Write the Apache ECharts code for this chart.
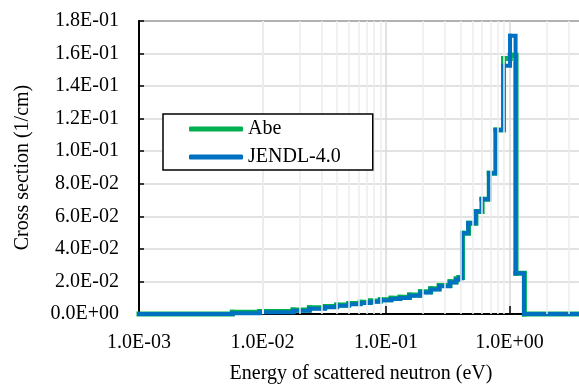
<!DOCTYPE html>
<html style="height: 100%">
<head>
  <meta charset="utf-8">
  <script src="https://cdn.jsdelivr.net/npm/echarts@6/dist/echarts.min.js"></script>
</head>
<body style="height: 100%; margin: 0; background: #fff">
<div id="chart" style="width: 579px; height: 390px"></div>
<script>
  // bin edges (eV) and step values (1/cm)
  // value i holds from edge i to edge i+1
  var abeE = [0.001, 0.0057, 0.0095, 0.0177, 0.024, 0.032, 0.04, 0.05, 0.062, 0.075, 0.09, 0.11, 0.13,
    0.155, 0.19, 0.23, 0.27, 0.33, 0.37, 0.39, 0.416, 0.466, 0.535, 0.6, 0.686, 0.777, 0.895, 1.015, 1.13, 1.32, 10];
  var abeV = [0, 0.001, 0.0015, 0.0025, 0.0038, 0.0046, 0.0055, 0.0064, 0.0072, 0.008, 0.0088, 0.0096, 0.0103,
    0.0117, 0.0137, 0.0155, 0.0175, 0.0198, 0.0215, 0.0225, 0.0496, 0.0557, 0.0629, 0.0705, 0.0864, 0.113, 0.157, 0.159, 0.025, 0];

  var jendlE = [0.001, 0.0057, 0.0095, 0.0177, 0.024, 0.032, 0.04, 0.05, 0.062, 0.075, 0.09, 0.11, 0.13,
    0.155, 0.19, 0.23, 0.27, 0.33, 0.37, 0.39, 0.414, 0.463, 0.532, 0.596, 0.682, 0.773, 0.891, 1.01, 1.12, 1.31, 10];
  var jendlV = [0, 0.0005, 0.001, 0.002, 0.0033, 0.0042, 0.005, 0.006, 0.0068, 0.0076, 0.0084, 0.0092, 0.0098,
    0.0112, 0.0132, 0.015, 0.017, 0.0193, 0.021, 0.022, 0.0496, 0.0557, 0.0629, 0.0705, 0.0864, 0.113, 0.1525, 0.171, 0.025, 0];

  var minorX = [0.002, 0.003, 0.004, 0.005, 0.006, 0.007, 0.008, 0.009,
    0.02, 0.03, 0.04, 0.05, 0.06, 0.07, 0.08, 0.09,
    0.2, 0.3, 0.4, 0.5, 0.6, 0.7, 0.8, 0.9,
    2, 3, 4, 5, 6, 7, 8, 9];

  function sci(v) {
    if (v === 0) return '0.0E+00';
    var p = v.toExponential(1).toUpperCase().split('E');
    var e = parseInt(p[1], 10);
    return p[0] + 'E' + (e < 0 ? '-' : '+') + (Math.abs(e) < 10 ? '0' : '') + Math.abs(e);
  }

  // one item per bin: [from, to, value, next value]
  function bins(edges, vals) {
    var out = [];
    for (var i = 0; i < vals.length; i++) {
      out.push([edges[i], edges[i + 1], vals[i], i + 1 < vals.length ? vals[i + 1] : vals[i]]);
    }
    return out;
  }

  function stepItem(color, width) {
    return function (params, api) {
      var a = api.coord([api.value(0), api.value(2)]);
      var b = api.coord([api.value(1), api.value(2)]);
      var c = api.coord([api.value(1), api.value(3)]);
      return {
        type: 'polyline',
        shape: { points: [a, b, c] },
        style: { stroke: color, lineWidth: width, fill: null, lineJoin: 'miter', lineCap: 'square' }
      };
    };
  }

  var font = 'Liberation Serif';
  var myChart = echarts.init(document.getElementById('chart'));

  var option = {
    animation: false,
    backgroundColor: '#fff',
    grid: {
      left: 139, top: 21, width: 494, height: 293,
      outerBoundsMode: 'none', containLabel: false,
      show: true, borderColor: '#000', borderWidth: 1.5
    },
    legend: {
      left: 163, top: 114, zlevel: 1,
      orient: 'vertical',
      data: ['Abe', 'JENDL-4.0'],
      icon: 'roundRect',
      itemWidth: 54, itemHeight: 5, itemGap: 8,
      padding: [5, 32, 3, 26],
      borderColor: '#000', borderWidth: 1.5,
      backgroundColor: '#fff',
      textStyle: { fontFamily: font, fontSize: 20, color: '#000' }
    },
    xAxis: {
      type: 'log', logBase: 10, min: 0.001, max: 10,
      name: 'Energy of scattered neutron (eV)',
      nameLocation: 'middle', nameGap: 50,
      nameTextStyle: { fontFamily: font, fontSize: 20, color: '#000', padding: [0, 50, 0, 0] },
      axisLine: { lineStyle: { color: '#000', width: 2 } },
      axisTick: { inside: true, length: 8, lineStyle: { color: '#000', width: 1.5 } },
      axisLabel: { formatter: sci, showMaxLabel: false, fontFamily: font, fontSize: 20, color: '#000', margin: 19 },
      splitLine: { show: true, lineStyle: { color: '#d9d9d9', width: 1.5 } }
    },
    yAxis: {
      type: 'value', min: 0, max: 0.18, interval: 0.02,
      name: 'Cross section (1/cm)',
      nameLocation: 'middle', nameGap: 106,
      nameTextStyle: { fontFamily: font, fontSize: 20, color: '#000' },
      axisLine: { show: true, lineStyle: { color: '#000', width: 2 } },
      axisTick: { show: true, inside: true, length: 5, lineStyle: { color: '#000', width: 1.5 } },
      axisLabel: { formatter: sci, fontFamily: font, fontSize: 20, color: '#000', margin: 20 },
      splitLine: { lineStyle: { color: '#d9d9d9', width: 1.5 } }
    },
    series: [
      {
        // minor log grid lines
        type: 'line', name: 'minor', silent: true, z: 1,
        data: [[0.001, 0]], symbol: 'none',
        lineStyle: { opacity: 0 },
        markLine: {
          silent: true, symbol: 'none', animation: false,
          label: { show: false },
          lineStyle: { color: '#ececec', width: 1.5, type: 'solid' },
          data: minorX.map(function (v) { return { xAxis: v }; })
        }
      },
      {
        name: 'Abe', type: 'custom', z: 3, silent: true,
        itemStyle: { color: '#00b050' },
        renderItem: stepItem('#00b050', 5),
        encode: { x: [0, 1], y: [2, 3] },
        data: bins(abeE, abeV)
      },
      {
        name: 'JENDL-4.0', type: 'custom', z: 4, silent: true,
        itemStyle: { color: '#0070c0' },
        renderItem: stepItem('#0070c0', 4),
        encode: { x: [0, 1], y: [2, 3] },
        data: bins(jendlE, jendlV)
      }
    ]
  };
  myChart.setOption(option);
</script>
</body>
</html>
